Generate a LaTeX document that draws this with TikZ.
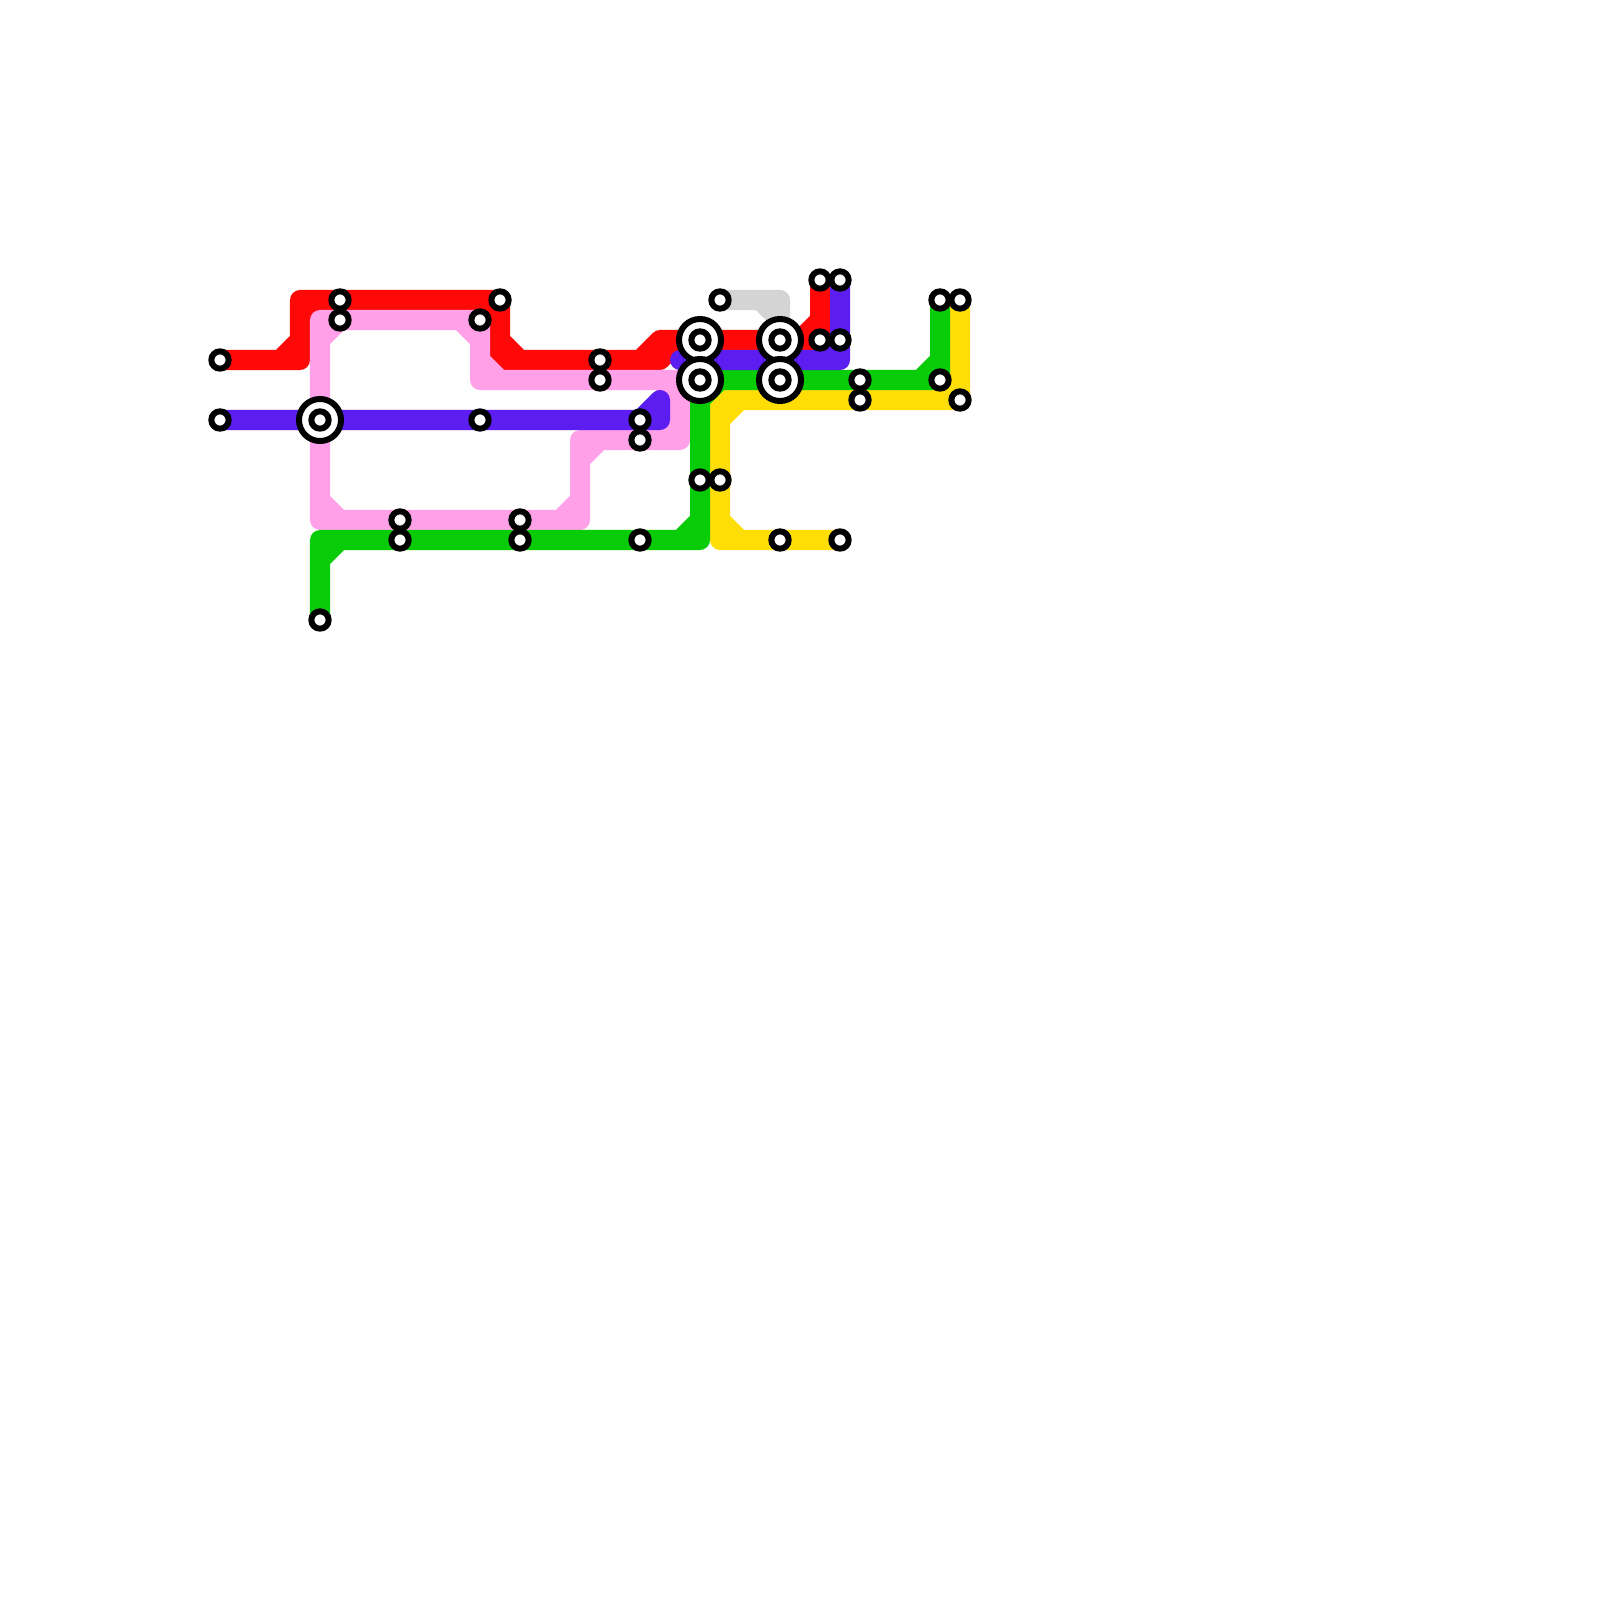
\documentclass[tikz,border=0pt]{standalone}
\pgfdeclarelayer{lines}
\pgfsetlayers{lines,main}
\definecolor{mred}{RGB}{255,8,8}
\definecolor{mpurple}{RGB}{92,30,240}
\definecolor{mpink}{RGB}{255,160,232}
\definecolor{mgreen}{RGB}{8,204,8}
\definecolor{myellow}{RGB}{255,222,8}
\definecolor{mgrey}{RGB}{212,212,212}
\tikzset{
  stn/.style={circle,draw=black,fill=white,line width=0.6mm,inner sep=0pt,outer sep=0pt,minimum size=1.733mm},
  hub/.style={circle,draw=black,fill=white,line width=0.6mm,inner sep=0pt,outer sep=0pt,minimum size=4.2mm},
  metro/.style={line width=2mm,line cap=round,line join=round},
}
\begin{document}
\begin{tikzpicture}[x=0.01cm,y=-0.01cm]
\useasboundingbox (0,0) rectangle (1600,1600);
% interchange rings, top to bottom
\node[hub] (hubW) at (320,420) {};
\node[hub] (hubA) at (700,340) {};
\node[hub] (hubC) at (780,340) {};
\node[hub] (hubB) at (700,380) {};
\node[hub] (hubD) at (780,380) {};
% stations
\node[stn] (a1) at (220,360) {};
\node[stn] (a2) at (220,420) {};
\node[stn] (w) at (320,420) {};
\node[stn] (b1) at (340,300) {};
\node[stn] (b2) at (340,320) {};
\node[stn] (c1) at (480,320) {};
\node[stn] (c2) at (500,300) {};
\node[stn] (c3) at (480,420) {};
\node[stn] (d1) at (400,520) {};
\node[stn] (d2) at (400,540) {};
\node[stn] (e1) at (520,520) {};
\node[stn] (e2) at (520,540) {};
\node[stn] (f1) at (600,360) {};
\node[stn] (f2) at (600,380) {};
\node[stn] (g1) at (640,420) {};
\node[stn] (g2) at (640,440) {};
\node[stn] (g3) at (640,540) {};
\node[stn] (h) at (320,620) {};
\node[stn] (ca) at (700,340) {};
\node[stn] (cb) at (700,380) {};
\node[stn] (cc) at (780,340) {};
\node[stn] (cd) at (780,380) {};
\node[stn] (i) at (720,300) {};
\node[stn] (j1) at (820,280) {};
\node[stn] (j2) at (840,280) {};
\node[stn] (k1) at (820,340) {};
\node[stn] (k2) at (840,340) {};
\node[stn] (l1) at (860,380) {};
\node[stn] (l2) at (860,400) {};
\node[stn] (m1) at (940,300) {};
\node[stn] (m2) at (960,300) {};
\node[stn] (n1) at (940,380) {};
\node[stn] (n2) at (960,400) {};
\node[stn] (o1) at (700,480) {};
\node[stn] (o2) at (720,480) {};
\node[stn] (q1) at (780,540) {};
\node[stn] (q2) at (840,540) {};
% bends
\coordinate (r1) at (300,360);
\coordinate (r2) at (300,300);
\coordinate (r3) at (500,300);
\coordinate (r4) at (500,360);
\coordinate (r5) at (660,360);
\coordinate (r6) at (660,340);
\coordinate (r7) at (820,340);
\coordinate (u1) at (660,420);
\coordinate (u2) at (660,400);
\coordinate (u3) at (680,360);
\coordinate (u4) at (840,360);
\coordinate (p1) at (320,320);
\coordinate (p2) at (480,320);
\coordinate (p3) at (480,380);
\coordinate (p4) at (680,380);
\coordinate (p5) at (680,440);
\coordinate (p6) at (580,440);
\coordinate (p7) at (580,520);
\coordinate (p8) at (320,520);
\coordinate (v1) at (320,540);
\coordinate (v2) at (700,540);
\coordinate (v3) at (700,380);
\coordinate (v4) at (940,380);
\coordinate (y1) at (960,400);
\coordinate (y2) at (720,400);
\coordinate (y3) at (720,540);
\coordinate (z1) at (780,300);
\begin{pgfonlayer}{lines}
\fill[white] (0,0) rectangle (1600,1600);
% grey
\draw[metro,mgrey] (i.center) -- (z1) -- (cc.center)
  (z1) ++(-20,0) -- ++(20,20);
% red
\draw[metro,mred] (a1.center) -- (r1) -- (r2) -- (r3) -- (r4) -- (r5) -- (r6) -- (r7) -- (j1.center)
  (r1) ++(-20,0) -- ++(20,-20)
  (r2) ++(0,20) -- ++(20,-20)
  (r3) ++(-20,0) -- ++(20,20)
  (r4) ++(0,-20) -- ++(20,20)
  (r5) ++(-20,0) -- ++(20,-20)
  (r5) -- ++(20,-20)
  (r7) ++(-20,0) -- ++(20,-20);
% yellow
\draw[metro,myellow] (m2.center) -- (y1) -- (y2) -- (y3) -- (q2.center)
  (y1) ++(-20,0) -- ++(20,-20)
  (y2) ++(0,20) -- ++(20,-20)
  (y3) ++(0,-20) -- ++(20,20);
% pink
\draw[metro,mpink] (p1) -- (p2) -- (p3) -- (p4) -- (p5) -- (p6) -- (p7) -- (p8) -- cycle
  (p1) ++(0,20) -- ++(20,-20)
  (p2) ++(-20,0) -- ++(20,20)
  (p3) ++(0,-20) -- ++(20,20)
  (p4) ++(-20,0) -- ++(20,20)
  (p5) ++(0,-20) -- ++(-20,20)
  (p6) ++(20,0) -- ++(-20,20)
  (p7) ++(0,-20) -- ++(-20,20)
  (p8) ++(20,0) -- ++(-20,-20);
% green
\draw[metro,mgreen] (h.center) -- (v1) -- (v2) -- (v3) -- (v4) -- (m1.center)
  (v1) ++(0,20) -- ++(20,-20)
  (v2) ++(-20,0) -- ++(20,-20)
  (v3) ++(0,20) -- ++(20,-20)
  (v4) ++(-20,0) -- ++(20,-20);
% purple
\draw[metro,mpurple] (a2.center) -- (u1) -- (u2)
  (u1) ++(-20,0) -- ++(20,-20);
\draw[metro,mpurple] (u3) -- (u4) -- (j2.center)
  (u4) ++(-20,0) -- ++(20,-20);
\end{pgfonlayer}
\end{tikzpicture}
\end{document}
